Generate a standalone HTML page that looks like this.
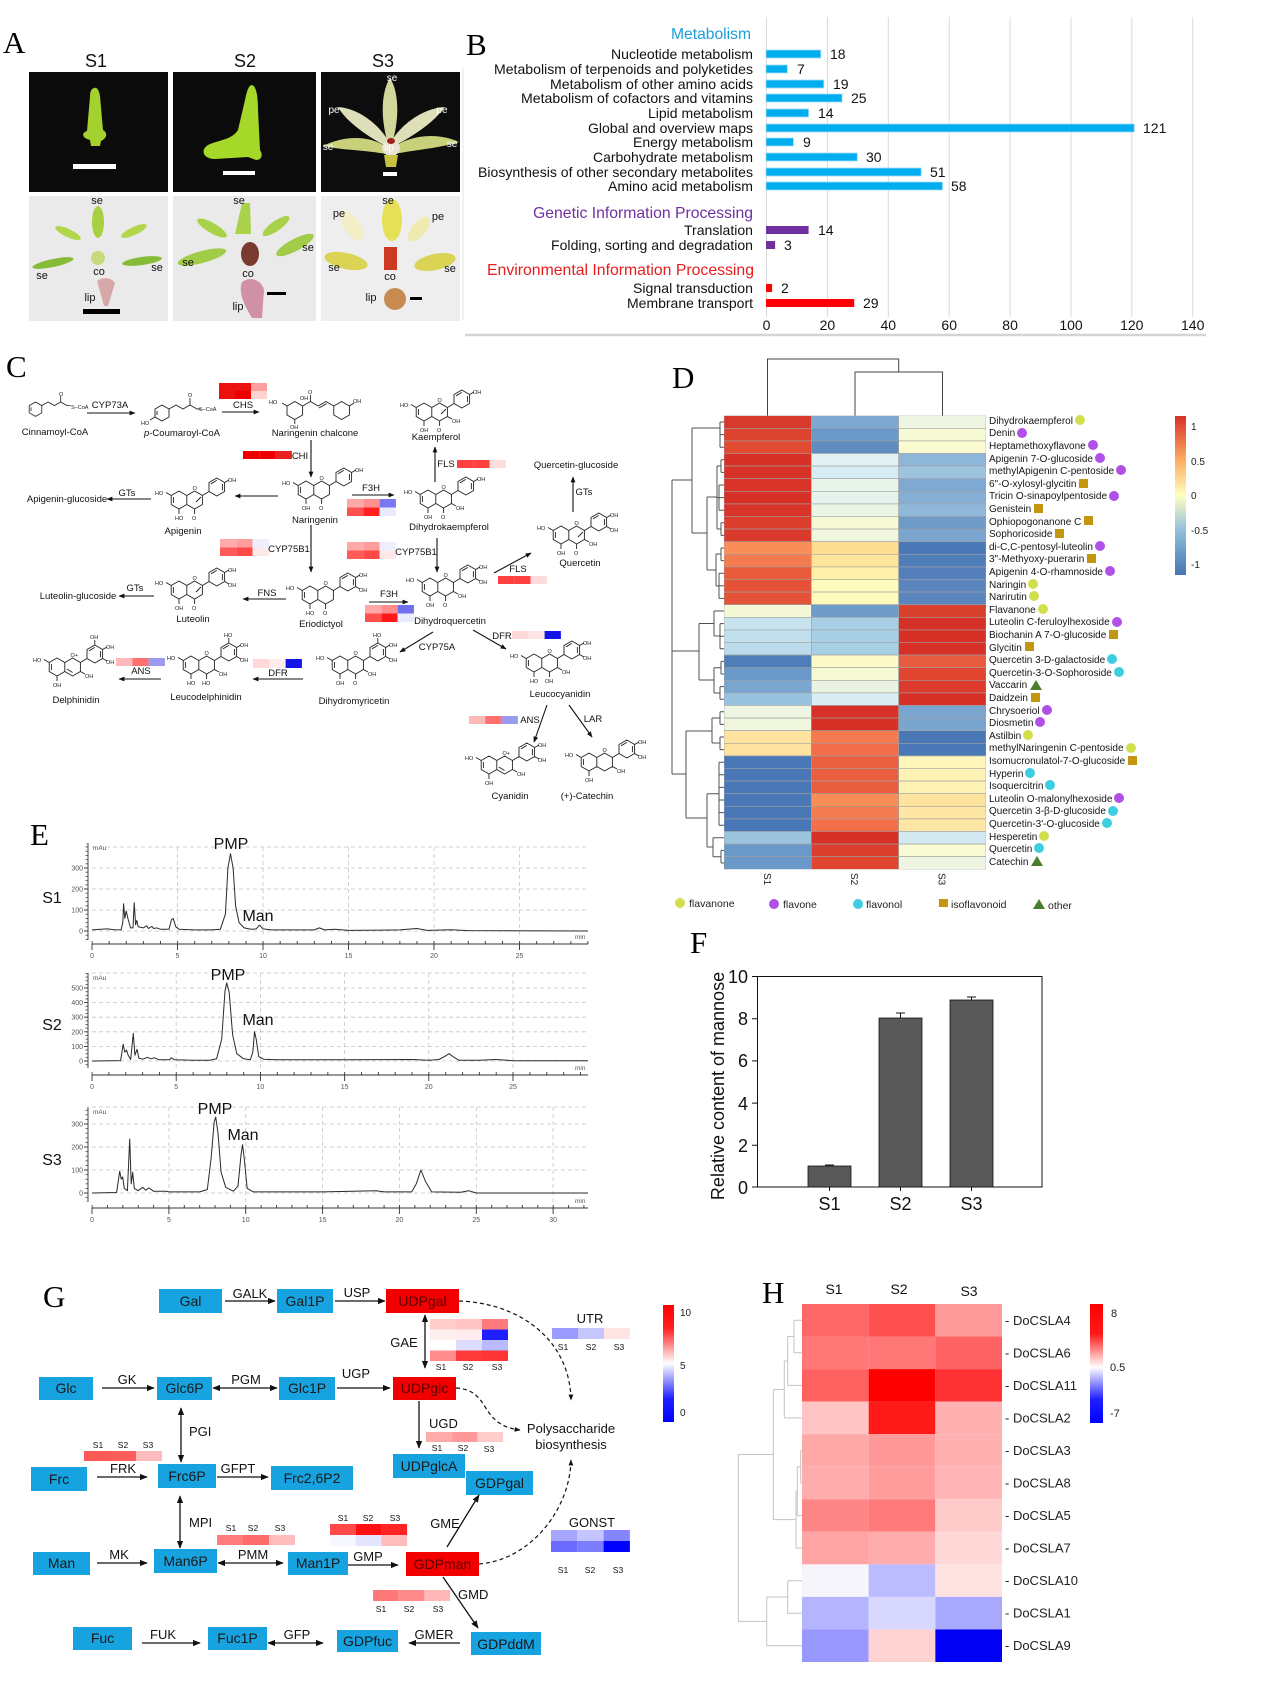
<!DOCTYPE html>
<html><head><meta charset="utf-8">
<style>
html,body{margin:0;padding:0;background:#fff;}
body{width:1269px;height:1691px;position:relative;overflow:hidden;font-family:"Liberation Sans",Arial,sans-serif;}
svg{position:absolute;left:0;top:0;}
.rl{position:absolute;left:989px;font-size:10px;line-height:12.6px;height:12.6px;white-space:nowrap;color:#151515;}
.m{display:inline-block;vertical-align:middle;margin-left:2px;position:relative;top:-1px;}
.ci{width:10px;height:10px;border-radius:50%;}
.fa{background:#d2df4c}.fo{background:#b14fe6}.fl{background:#3fcde0}
.sq{width:9px;height:9px;background:#c4960f;margin-left:3px}
.tr{width:0;height:0;border-left:6px solid transparent;border-right:6px solid transparent;border-bottom:10px solid #4a7d2c;margin-left:3px}
</style></head><body>
<svg width="1269" height="1691" viewBox="0 0 1269 1691" xmlns="http://www.w3.org/2000/svg" font-family="Liberation Sans, Arial, sans-serif">
<defs>
<marker id="a" viewBox="0 0 10 10" refX="9" refY="5" markerWidth="6" markerHeight="6" orient="auto-start-reverse" markerUnits="userSpaceOnUse"><path d="M0,1L10,5L0,9Z" fill="#111"/></marker>
<marker id="b" viewBox="0 0 10 10" refX="9" refY="5" markerWidth="8" markerHeight="8" orient="auto-start-reverse" markerUnits="userSpaceOnUse"><path d="M0,1L10,5L0,9Z" fill="#111"/></marker>
<linearGradient id="gd" x1="0" y1="0" x2="0" y2="1"><stop offset="0" stop-color="#d73027"/><stop offset="0.28" stop-color="#fdae61"/><stop offset="0.5" stop-color="#ffffbf"/><stop offset="0.72" stop-color="#91bfdb"/><stop offset="1" stop-color="#4575b4"/></linearGradient>
<linearGradient id="gh" x1="0" y1="0" x2="0" y2="1"><stop offset="0" stop-color="#ff0000"/><stop offset="0.25" stop-color="#ff1818"/><stop offset="0.53" stop-color="#ffffff"/><stop offset="0.8" stop-color="#2020ff"/><stop offset="1" stop-color="#0000ff"/></linearGradient>
<linearGradient id="gg" x1="0" y1="0" x2="0" y2="1"><stop offset="0" stop-color="#ff0000"/><stop offset="0.2" stop-color="#ff2020"/><stop offset="0.5" stop-color="#ffffff"/><stop offset="0.8" stop-color="#2020ff"/><stop offset="1" stop-color="#0000ff"/></linearGradient>
<pattern id="tx1" x="91.6" y="0" width="17.1" height="10" patternUnits="userSpaceOnUse"><rect width="0.9" height="10" fill="#333"/></pattern>
<pattern id="tx2" x="91.6" y="0" width="16.84" height="10" patternUnits="userSpaceOnUse"><rect width="0.9" height="10" fill="#333"/></pattern>
<pattern id="tx3" x="91.6" y="0" width="15.37" height="10" patternUnits="userSpaceOnUse"><rect width="0.9" height="10" fill="#333"/></pattern>
<pattern id="ty1" x="0" y="930.6" width="10" height="4.2" patternUnits="userSpaceOnUse"><rect width="10" height="0.8" fill="#444"/></pattern>
<pattern id="ty2" x="0" y="1060.6" width="10" height="3.65" patternUnits="userSpaceOnUse"><rect width="10" height="0.8" fill="#444"/></pattern>
<pattern id="ty3" x="0" y="1192.6" width="10" height="4.6" patternUnits="userSpaceOnUse"><rect width="10" height="0.8" fill="#444"/></pattern>
</defs>

<!-- ================= A ================= -->
<text x="3" y="53" font-family="Liberation Serif, serif" font-size="31">A</text>
<g font-size="18" text-anchor="middle" fill="#111"><text x="96" y="67">S1</text><text x="245" y="67">S2</text><text x="383" y="67">S3</text></g>
<rect x="29" y="72" width="139" height="120" fill="#0b0b0b"/>
<rect x="173" y="72" width="143" height="120" fill="#0b0b0b"/>
<rect x="321" y="72" width="139" height="120" fill="#0d0d0d"/>
<path d="M94,88C97,87 99,90 100,96L103,130C108,133 107,138 101,141L100,146L91,146L90,140C82,138 81,133 87,131L90,97C90,92 91,89 94,88Z" fill="#a5d12e"/>
<rect x="73" y="164" width="43" height="5" fill="#fff"/>
<path d="M252,85C256,86 258,95 258,110L260,150C263,155 262,160 256,160L248,157L215,159C203,159 200,150 208,145C218,140 232,140 238,130L245,100C247,90 249,85 252,85Z" fill="#a6d82a"/>
<rect x="223" y="171" width="32" height="4" fill="#fff"/>
<path d="M323,146C345,135 370,135 388,148L386,154C365,150 340,150 323,146Z" fill="#c9d07a"/>
<path d="M459,142C437,132 410,135 392,148L394,154C415,150 440,148 459,142Z" fill="#c9d07a"/>
<path d="M338,107C355,108 375,120 388,140L384,145C365,135 345,120 338,107Z" fill="#dedfb8"/>
<path d="M444,107C427,108 405,120 392,140L396,145C415,135 437,120 444,107Z" fill="#dedfb8"/>
<path d="M390,78C398,90 400,115 393,140L387,140C380,115 382,90 390,78Z" fill="#d3d69a"/>
<ellipse cx="391" cy="148" rx="9" ry="8" fill="#e8e2d2"/><ellipse cx="391" cy="141" rx="4" ry="3" fill="#a02020"/>
<path d="M384,155L398,155L396,167L386,167Z" fill="#c8c040"/>
<rect x="383" y="172" width="14" height="4" fill="#fff"/>
<g font-size="10" fill="#fff" text-anchor="middle"><text x="392" y="81">se</text><text x="334" y="113">pe</text><text x="442" y="113">pe</text><text x="328" y="150">se</text><text x="452" y="147">se</text><text x="389" y="151">lip</text></g>

<rect x="29" y="196" width="139" height="125" fill="#eaeaea"/>
<rect x="173" y="196" width="143" height="125" fill="#eaeaea"/>
<rect x="321" y="196" width="139" height="125" fill="#eeeeee"/>
<!-- S1 bottom -->
<ellipse cx="98" cy="222" rx="6" ry="16" fill="#a8d040"/>
<ellipse cx="68" cy="233" rx="14" ry="4" transform="rotate(25 68 233)" fill="#b2d64a"/>
<ellipse cx="134" cy="231" rx="14" ry="4" transform="rotate(-25 134 231)" fill="#b2d64a"/>
<ellipse cx="53" cy="263" rx="21" ry="4" transform="rotate(-12 53 263)" fill="#86bb38"/>
<ellipse cx="142" cy="261" rx="20" ry="4" transform="rotate(-8 142 261)" fill="#86bb38"/>
<circle cx="98" cy="258" r="7" fill="#c6da7a"/>
<path d="M97,281C103,276 112,278 115,283L108,306L104,306Z" fill="#d7a8a8"/>
<rect x="83" y="309" width="37" height="5" fill="#000"/>
<g font-size="11" fill="#111" text-anchor="middle"><text x="97" y="204">se</text><text x="99" y="275">co</text><text x="42" y="279">se</text><text x="157" y="271">se</text><text x="90" y="301">lip</text></g>
<!-- S2 bottom -->
<path d="M242,203L250,203L251,234L235,234Z" fill="#a9d24a"/>
<ellipse cx="212" cy="228" rx="17" ry="5" transform="rotate(30 212 228)" fill="#a9d24a"/>
<ellipse cx="276" cy="226" rx="16" ry="5" transform="rotate(-35 276 226)" fill="#a9d24a"/>
<ellipse cx="202" cy="257" rx="25" ry="6" transform="rotate(-15 202 257)" fill="#a0cc48"/>
<ellipse cx="295" cy="245" rx="21" ry="6" transform="rotate(-28 295 245)" fill="#a0cc48"/>
<ellipse cx="250" cy="254" rx="9" ry="12" fill="#7a3a30"/>
<path d="M242,282C250,276 262,280 264,290L262,318L252,318C244,305 238,292 242,282Z" fill="#cf90a8"/>
<rect x="267" y="292" width="19" height="3" fill="#000"/>
<g font-size="11" fill="#111" text-anchor="middle"><text x="239" y="204">se</text><text x="188" y="266">se</text><text x="308" y="251">se</text><text x="248" y="277">co</text><text x="238" y="310">lip</text></g>
<!-- S3 bottom -->
<ellipse cx="352" cy="226" rx="8" ry="17" transform="rotate(-35 352 226)" fill="#f2efc8"/>
<ellipse cx="392" cy="220" rx="10" ry="21" fill="#e6df58"/>
<ellipse cx="419" cy="229" rx="7" ry="15" transform="rotate(40 419 229)" fill="#eeeab0"/>
<ellipse cx="346" cy="261" rx="22" ry="8" transform="rotate(12 346 261)" fill="#dad354"/>
<ellipse cx="435" cy="262" rx="21" ry="8" transform="rotate(-12 435 262)" fill="#dad354"/>
<rect x="384" y="247" width="13" height="23" fill="#cc3a22"/>
<circle cx="395" cy="299" r="11" fill="#c88a50"/>
<rect x="410" y="297" width="12" height="3" fill="#000"/>
<g font-size="11" fill="#111" text-anchor="middle"><text x="339" y="217">pe</text><text x="388" y="204">se</text><text x="438" y="220">pe</text><text x="334" y="271">se</text><text x="450" y="272">se</text><text x="390" y="280">co</text><text x="371" y="301">lip</text></g>

<!-- ================= B ================= -->
<text x="466" y="55" font-family="Liberation Serif, serif" font-size="31">B</text>
<line x1="463" y1="67" x2="463" y2="320" stroke="#e6e6e6"/>
<g stroke="#d9d9d9" stroke-width="1">
<line x1="766.5" y1="17" x2="766.5" y2="317"/><line x1="827.4" y1="17" x2="827.4" y2="317"/><line x1="888.3" y1="17" x2="888.3" y2="317"/><line x1="949.2" y1="17" x2="949.2" y2="317"/><line x1="1010.1" y1="17" x2="1010.1" y2="317"/><line x1="1071" y1="17" x2="1071" y2="317"/><line x1="1131.8" y1="17" x2="1131.8" y2="317"/><line x1="1192.7" y1="17" x2="1192.7" y2="317"/>
</g>
<line x1="465" y1="335" x2="1206" y2="335" stroke="#d4d4d4" stroke-width="2.5"/>
<g font-size="14" fill="#111" text-anchor="end">
<text x="751" y="39" font-size="16" fill="#1a9fdc" textLength="80" lengthAdjust="spacingAndGlyphs">Metabolism</text>
<text x="753" y="59" textLength="142" lengthAdjust="spacingAndGlyphs">Nucleotide metabolism</text>
<text x="753" y="74" textLength="259" lengthAdjust="spacingAndGlyphs">Metabolism of terpenoids and polyketides</text>
<text x="753" y="89" textLength="203" lengthAdjust="spacingAndGlyphs">Metabolism of other amino acids</text>
<text x="753" y="103" textLength="232" lengthAdjust="spacingAndGlyphs">Metabolism of cofactors and vitamins</text>
<text x="753" y="118" textLength="105" lengthAdjust="spacingAndGlyphs">Lipid metabolism</text>
<text x="753" y="133" textLength="165" lengthAdjust="spacingAndGlyphs">Global and overview maps</text>
<text x="753" y="147" textLength="120" lengthAdjust="spacingAndGlyphs">Energy metabolism</text>
<text x="753" y="162" textLength="160" lengthAdjust="spacingAndGlyphs">Carbohydrate metabolism</text>
<text x="753" y="177" textLength="275" lengthAdjust="spacingAndGlyphs">Biosynthesis of other secondary metabolites</text>
<text x="753" y="191" textLength="145" lengthAdjust="spacingAndGlyphs">Amino acid metabolism</text>
<text x="753" y="218" font-size="16" fill="#7030a0" textLength="220" lengthAdjust="spacingAndGlyphs">Genetic Information Processing</text>
<text x="753" y="235" textLength="69" lengthAdjust="spacingAndGlyphs">Translation</text>
<text x="753" y="250" textLength="202" lengthAdjust="spacingAndGlyphs">Folding, sorting and degradation</text>
<text x="754" y="275" font-size="16" fill="#e81c1c" textLength="267" lengthAdjust="spacingAndGlyphs">Environmental Information Processing</text>
<text x="753" y="293" textLength="120" lengthAdjust="spacingAndGlyphs">Signal transduction</text>
<text x="753" y="308" textLength="126" lengthAdjust="spacingAndGlyphs">Membrane transport</text>
</g>
<g stroke="#9fdcf6" stroke-width="0.8">
<rect x="766" y="50" width="54.8" height="8" fill="#00aeef"/>
<rect x="766" y="65" width="21.3" height="8" fill="#00aeef"/>
<rect x="766" y="80" width="57.8" height="8" fill="#00aeef"/>
<rect x="766" y="94" width="76.1" height="8" fill="#00aeef"/>
<rect x="766" y="109" width="42.6" height="8" fill="#00aeef"/>
<rect x="766" y="124" width="368.2" height="8" fill="#00aeef"/>
<rect x="766" y="138" width="27.4" height="8" fill="#00aeef"/>
<rect x="766" y="153" width="91.3" height="8" fill="#00aeef"/>
<rect x="766" y="168" width="155.2" height="8" fill="#00aeef"/>
<rect x="766" y="182" width="176.5" height="8" fill="#00aeef"/>
</g>
<rect x="766" y="226" width="42.6" height="8" fill="#7030a0"/>
<rect x="766" y="241" width="9.1" height="8" fill="#7030a0"/>
<rect x="766" y="284" width="6.1" height="8" fill="#ff0000"/>
<rect x="766" y="299" width="88.2" height="8" fill="#ff0000"/>
<g font-size="14" fill="#111">
<text x="830" y="59">18</text><text x="797" y="74">7</text><text x="833" y="89">19</text><text x="851" y="103">25</text><text x="818" y="118">14</text><text x="1143" y="133">121</text><text x="803" y="147">9</text><text x="866" y="162">30</text><text x="930" y="177">51</text><text x="951" y="191">58</text>
<text x="818" y="235">14</text><text x="784" y="250">3</text><text x="781" y="293">2</text><text x="863" y="308">29</text>
</g>
<g font-size="14" fill="#111" text-anchor="middle">
<text x="766.5" y="330">0</text><text x="827.4" y="330">20</text><text x="888.3" y="330">40</text><text x="949.2" y="330">60</text><text x="1010.1" y="330">80</text><text x="1071" y="330">100</text><text x="1131.8" y="330">120</text><text x="1192.7" y="330">140</text>
</g>

<!-- ================= C ================= -->
<text x="6" y="377" font-family="Liberation Serif, serif" font-size="31">C</text>
<g fill="none" stroke="#222" stroke-width="0.9">
<path transform="translate(22,393) scale(0.9)" d="M8,14L15,10L22,14L22,22L15,26L8,22ZM22,14L29,10L36,14L43,10L50,14M43,10L43,3M50,14L54,14M10,16L10,20"/>
<path transform="translate(147,395)" d="M8,14L15,10L22,14L22,22L15,26L8,22ZM22,14L29,10L36,14L43,10L50,14M43,10L43,3M50,14L54,14M10,16L10,20M8,22L3,25"/>
<path transform="translate(277,394)" d="M10,12L17.8,7.5L25.6,12L25.6,21L17.8,25.5L10,21ZM25.6,12L33.4,7.5L41.2,12L49,7.5L56.8,12M33.4,7.5L33.4,1M56.8,12L56.8,21L64.6,25.5L72.4,21L72.4,12L64.6,7.5ZM10,12L5,9M17.8,25.5L17.8,30M72.4,12L77,9M42,14L49.5,9.7"/>
</g>
<g font-size="5.5" fill="#222">
<text x="71" y="409">S–CoA</text><text x="59" y="396">O</text>
<text x="199" y="411">S–CoA</text><text x="188" y="397">O</text><text x="141" y="425">HO</text>
<text x="269" y="404">HO</text><text x="300" y="400">OH</text><text x="290" y="429">OH</text><text x="308" y="394">O</text><text x="353" y="403">OH</text>
</g>
<g fill="none" stroke="#222" stroke-width="0.9">
<path transform="translate(291,468)" d="M15,13L22.8,17.5L22.8,26.5L15,31L7.2,26.5L7.2,17.5ZM22.8,17.5L30.6,13L38.4,17.5L38.4,26.5L30.6,31L22.8,26.5M38.4,17.5L45,13.5M45,13.5L45,4.5L52.8,0L60.6,4.5L60.6,13.5L52.8,18ZM7.2,17.5L2,14.5M15,31L15,36M30.6,31L30.6,36M60.6,4.5L65,2M9.4,19L9.4,25M47,5.8L52.8,2.4M58.4,6L58.4,12.2"/>
<path transform="translate(164,478)" d="M15,13L22.8,17.5L22.8,26.5L15,31L7.2,26.5L7.2,17.5ZM22.8,17.5L30.6,13L38.4,17.5L38.4,26.5L30.6,31L22.8,26.5M38.4,17.5L45,13.5M45,13.5L45,4.5L52.8,0L60.6,4.5L60.6,13.5L52.8,18ZM7.2,17.5L2,14.5M15,31L15,36M30.6,31L30.6,36M60.6,4.5L65,2M9.4,19L9.4,25M47,5.8L52.8,2.4M58.4,6L58.4,12.2M32,24L37,19"/>
<path transform="translate(413,477)" d="M15,13L22.8,17.5L22.8,26.5L15,31L7.2,26.5L7.2,17.5ZM22.8,17.5L30.6,13L38.4,17.5L38.4,26.5L30.6,31L22.8,26.5M38.4,17.5L45,13.5M45,13.5L45,4.5L52.8,0L60.6,4.5L60.6,13.5L52.8,18ZM7.2,17.5L2,14.5M15,31L15,36M30.6,31L30.6,36M60.6,4.5L65,2M9.4,19L9.4,25M47,5.8L52.8,2.4M58.4,6L58.4,12.2M38.4,26.5L43,29"/>
<path transform="translate(409,390)" d="M15,13L22.8,17.5L22.8,26.5L15,31L7.2,26.5L7.2,17.5ZM22.8,17.5L30.6,13L38.4,17.5L38.4,26.5L30.6,31L22.8,26.5M38.4,17.5L45,13.5M45,13.5L45,4.5L52.8,0L60.6,4.5L60.6,13.5L52.8,18ZM7.2,17.5L2,14.5M15,31L15,36M30.6,31L30.6,36M60.6,4.5L65,2M9.4,19L9.4,25M47,5.8L52.8,2.4M58.4,6L58.4,12.2M38.4,26.5L43,29M32,24L37,19"/>
<path transform="translate(295,573)" d="M15,13L22.8,17.5L22.8,26.5L15,31L7.2,26.5L7.2,17.5ZM22.8,17.5L30.6,13L38.4,17.5L38.4,26.5L30.6,31L22.8,26.5M38.4,17.5L45,13.5M45,13.5L45,4.5L52.8,0L60.6,4.5L60.6,13.5L52.8,18ZM7.2,17.5L2,14.5M15,31L15,36M30.6,31L30.6,36M60.6,4.5L65,2M60.6,13.5L65,16M9.4,19L9.4,25M47,5.8L52.8,2.4M58.4,6L58.4,12.2"/>
<path transform="translate(164,568)" d="M15,13L22.8,17.5L22.8,26.5L15,31L7.2,26.5L7.2,17.5ZM22.8,17.5L30.6,13L38.4,17.5L38.4,26.5L30.6,31L22.8,26.5M38.4,17.5L45,13.5M45,13.5L45,4.5L52.8,0L60.6,4.5L60.6,13.5L52.8,18ZM7.2,17.5L2,14.5M15,31L15,36M30.6,31L30.6,36M60.6,4.5L65,2M60.6,13.5L65,16M9.4,19L9.4,25M47,5.8L52.8,2.4M58.4,6L58.4,12.2M32,24L37,19"/>
<path transform="translate(415,565)" d="M15,13L22.8,17.5L22.8,26.5L15,31L7.2,26.5L7.2,17.5ZM22.8,17.5L30.6,13L38.4,17.5L38.4,26.5L30.6,31L22.8,26.5M38.4,17.5L45,13.5M45,13.5L45,4.5L52.8,0L60.6,4.5L60.6,13.5L52.8,18ZM7.2,17.5L2,14.5M15,31L15,36M30.6,31L30.6,36M60.6,4.5L65,2M60.6,13.5L65,16M9.4,19L9.4,25M47,5.8L52.8,2.4M58.4,6L58.4,12.2M38.4,26.5L43,29"/>
<path transform="translate(546,513)" d="M15,13L22.8,17.5L22.8,26.5L15,31L7.2,26.5L7.2,17.5ZM22.8,17.5L30.6,13L38.4,17.5L38.4,26.5L30.6,31L22.8,26.5M38.4,17.5L45,13.5M45,13.5L45,4.5L52.8,0L60.6,4.5L60.6,13.5L52.8,18ZM7.2,17.5L2,14.5M15,31L15,36M30.6,31L30.6,36M60.6,4.5L65,2M60.6,13.5L65,16M9.4,19L9.4,25M47,5.8L52.8,2.4M58.4,6L58.4,12.2M38.4,26.5L43,29M32,24L37,19"/>
<path transform="translate(325,643)" d="M15,13L22.8,17.5L22.8,26.5L15,31L7.2,26.5L7.2,17.5ZM22.8,17.5L30.6,13L38.4,17.5L38.4,26.5L30.6,31L22.8,26.5M38.4,17.5L45,13.5M45,13.5L45,4.5L52.8,0L60.6,4.5L60.6,13.5L52.8,18ZM7.2,17.5L2,14.5M15,31L15,36M30.6,31L30.6,36M60.6,4.5L65,2M60.6,13.5L65,16M52.8,0L52.8,-5M9.4,19L9.4,25M47,5.8L52.8,2.4M58.4,6L58.4,12.2M38.4,26.5L43,29"/>
<path transform="translate(176,643)" d="M15,13L22.8,17.5L22.8,26.5L15,31L7.2,26.5L7.2,17.5ZM22.8,17.5L30.6,13L38.4,17.5L38.4,26.5L30.6,31L22.8,26.5M38.4,17.5L45,13.5M45,13.5L45,4.5L52.8,0L60.6,4.5L60.6,13.5L52.8,18ZM7.2,17.5L2,14.5M15,31L15,36M30.6,31L30.6,36M60.6,4.5L65,2M60.6,13.5L65,16M52.8,0L52.8,-5M9.4,19L9.4,25M47,5.8L52.8,2.4M58.4,6L58.4,12.2M38.4,26.5L43,29"/>
<path transform="translate(42,645)" d="M15,13L22.8,17.5L22.8,26.5L15,31L7.2,26.5L7.2,17.5ZM22.8,17.5L30.6,13L38.4,17.5L38.4,26.5L30.6,31L22.8,26.5M38.4,17.5L45,13.5M45,13.5L45,4.5L52.8,0L60.6,4.5L60.6,13.5L52.8,18ZM7.2,17.5L2,14.5M15,31L15,36M60.6,4.5L65,2M60.6,13.5L65,16M52.8,0L52.8,-5M9.4,19L9.4,25M47,5.8L52.8,2.4M58.4,6L58.4,12.2M38.4,26.5L43,29M24.8,24L30.6,27.5"/>
<path transform="translate(519,641)" d="M15,13L22.8,17.5L22.8,26.5L15,31L7.2,26.5L7.2,17.5ZM22.8,17.5L30.6,13L38.4,17.5L38.4,26.5L30.6,31L22.8,26.5M38.4,17.5L45,13.5M45,13.5L45,4.5L52.8,0L60.6,4.5L60.6,13.5L52.8,18ZM7.2,17.5L2,14.5M15,31L15,36M30.6,31L30.6,36M60.6,4.5L65,2M60.6,13.5L65,16M9.4,19L9.4,25M47,5.8L52.8,2.4M58.4,6L58.4,12.2M38.4,26.5L43,29"/>
<path transform="translate(474,743)" d="M15,13L22.8,17.5L22.8,26.5L15,31L7.2,26.5L7.2,17.5ZM22.8,17.5L30.6,13L38.4,17.5L38.4,26.5L30.6,31L22.8,26.5M38.4,17.5L45,13.5M45,13.5L45,4.5L52.8,0L60.6,4.5L60.6,13.5L52.8,18ZM7.2,17.5L2,14.5M15,31L15,36M60.6,4.5L65,2M60.6,13.5L65,16M9.4,19L9.4,25M47,5.8L52.8,2.4M58.4,6L58.4,12.2M38.4,26.5L43,29M24.8,24L30.6,27.5"/>
<path transform="translate(574,740)" d="M15,13L22.8,17.5L22.8,26.5L15,31L7.2,26.5L7.2,17.5ZM22.8,17.5L30.6,13L38.4,17.5L38.4,26.5L30.6,31L22.8,26.5M38.4,17.5L45,13.5M45,13.5L45,4.5L52.8,0L60.6,4.5L60.6,13.5L52.8,18ZM7.2,17.5L2,14.5M15,31L15,36M60.6,4.5L65,2M60.6,13.5L65,16M9.4,19L9.4,25M47,5.8L52.8,2.4M58.4,6L58.4,12.2M38.4,26.5L43,29"/>
</g>
<g font-size="5.5" fill="#222">
<g transform="translate(291,468)"><text x="-9" y="17">HO</text><text x="11" y="42">OH</text><text x="28" y="42">O</text><text x="28.5" y="12">O</text><text x="64" y="4">OH</text></g>
<g transform="translate(164,478)"><text x="-9" y="17">HO</text><text x="11" y="42">HO</text><text x="28" y="42">O</text><text x="28.5" y="12">O</text><text x="64" y="4">OH</text></g>
<g transform="translate(413,477)"><text x="-9" y="17">HO</text><text x="11" y="42">OH</text><text x="28" y="42">O</text><text x="28.5" y="12">O</text><text x="64" y="4">OH</text><text x="43" y="33">OH</text></g>
<g transform="translate(409,390)"><text x="-9" y="17">HO</text><text x="11" y="42">OH</text><text x="28" y="42">O</text><text x="28.5" y="12">O</text><text x="64" y="4">OH</text><text x="43" y="33">OH</text></g>
<g transform="translate(295,573)"><text x="-9" y="17">HO</text><text x="11" y="42">HO</text><text x="28" y="42">O</text><text x="28.5" y="12">O</text><text x="64" y="4">OH</text><text x="64" y="19">OH</text></g>
<g transform="translate(164,568)"><text x="-9" y="17">HO</text><text x="11" y="42">OH</text><text x="28" y="42">O</text><text x="28.5" y="12">O</text><text x="64" y="4">OH</text><text x="64" y="19">OH</text></g>
<g transform="translate(415,565)"><text x="-9" y="17">HO</text><text x="11" y="42">OH</text><text x="28" y="42">O</text><text x="28.5" y="12">O</text><text x="64" y="4">OH</text><text x="64" y="19">OH</text><text x="43" y="33">OH</text></g>
<g transform="translate(546,513)"><text x="-9" y="17">HO</text><text x="11" y="42">OH</text><text x="28" y="42">O</text><text x="28.5" y="12">O</text><text x="64" y="4">OH</text><text x="64" y="19">OH</text><text x="43" y="33">OH</text></g>
<g transform="translate(325,643)"><text x="-9" y="17">HO</text><text x="11" y="42">OH</text><text x="28" y="42">O</text><text x="28.5" y="12">O</text><text x="64" y="4">OH</text><text x="64" y="19">OH</text><text x="48" y="-6">HO</text><text x="43" y="33">OH</text></g>
<g transform="translate(176,643)"><text x="-9" y="17">HO</text><text x="11" y="42">HO</text><text x="26" y="42">HO</text><text x="28.5" y="12">O</text><text x="64" y="4">OH</text><text x="64" y="19">OH</text><text x="48" y="-6">HO</text><text x="43" y="33">OH</text></g>
<g transform="translate(42,645)"><text x="-9" y="17">HO</text><text x="11" y="42">OH</text><text x="28.5" y="12">O+</text><text x="64" y="4">OH</text><text x="64" y="19">OH</text><text x="48" y="-6">OH</text><text x="43" y="33">OH</text></g>
<g transform="translate(519,641)"><text x="-9" y="17">HO</text><text x="11" y="42">HO</text><text x="26" y="42">OH</text><text x="28.5" y="12">O</text><text x="64" y="4">OH</text><text x="64" y="19">OH</text><text x="43" y="33">OH</text></g>
<g transform="translate(474,743)"><text x="-9" y="17">HO</text><text x="11" y="42">OH</text><text x="28.5" y="12">O+</text><text x="64" y="4">OH</text><text x="64" y="19">OH</text><text x="43" y="33">OH</text></g>
<g transform="translate(574,740)"><text x="-9" y="17">HO</text><text x="11" y="42">OH</text><text x="28.5" y="12">O</text><text x="64" y="4">OH</text><text x="64" y="19">OH</text><text x="43" y="33">OH</text></g>
</g>
<!-- C heatmaps -->
<g>
<rect x="219" y="383" width="16" height="8" fill="#ee1111"/><rect x="235" y="383" width="16" height="8" fill="#ee1111"/><rect x="251" y="383" width="16" height="8" fill="#ffa0a0"/>
<rect x="219" y="391" width="16" height="8" fill="#ee0f0f"/><rect x="235" y="391" width="16" height="8" fill="#ee0000"/><rect x="251" y="391" width="16" height="8" fill="#ffd2d2"/>
<rect x="243" y="451" width="16.3" height="8" fill="#ee0000"/><rect x="259.3" y="451" width="16.3" height="8" fill="#ee0000"/><rect x="275.6" y="451" width="16.3" height="8" fill="#e82020"/>
<rect x="347" y="499" width="16.3" height="8.5" fill="#ffa8a8"/><rect x="363.3" y="499" width="16.3" height="8.5" fill="#ff9090"/><rect x="379.6" y="499" width="16.3" height="8.5" fill="#7878f0"/>
<rect x="347" y="507.5" width="16.3" height="8.5" fill="#ff5050"/><rect x="363.3" y="507.5" width="16.3" height="8.5" fill="#ff2020"/><rect x="379.6" y="507.5" width="16.3" height="8.5" fill="#eaeaff"/>
<rect x="457" y="460" width="16.3" height="8" fill="#ff4040"/><rect x="473.3" y="460" width="16.3" height="8" fill="#ff4040"/><rect x="489.6" y="460" width="16.3" height="8" fill="#ffdcdc"/>
<rect x="220" y="539" width="16.3" height="8.5" fill="#ffaaaa"/><rect x="236.3" y="539" width="16.3" height="8.5" fill="#ff9c9c"/><rect x="252.6" y="539" width="16.3" height="8.5" fill="#eeeeff"/>
<rect x="220" y="547.5" width="16.3" height="8.5" fill="#ff5a5a"/><rect x="236.3" y="547.5" width="16.3" height="8.5" fill="#ff4848"/><rect x="252.6" y="547.5" width="16.3" height="8.5" fill="#ffe8e8"/>
<rect x="347" y="542" width="16.3" height="8.5" fill="#ffaaaa"/><rect x="363.3" y="542" width="16.3" height="8.5" fill="#ff9c9c"/><rect x="379.6" y="542" width="16.3" height="8.5" fill="#eeeeff"/>
<rect x="347" y="550.5" width="16.3" height="8.5" fill="#ff5a5a"/><rect x="363.3" y="550.5" width="16.3" height="8.5" fill="#ff4848"/><rect x="379.6" y="550.5" width="16.3" height="8.5" fill="#ffe8e8"/>
<rect x="365" y="605" width="16.3" height="8.5" fill="#ffa8a8"/><rect x="381.3" y="605" width="16.3" height="8.5" fill="#ff8c8c"/><rect x="397.6" y="605" width="16.3" height="8.5" fill="#7070ee"/>
<rect x="365" y="613.5" width="16.3" height="8.5" fill="#ff4e4e"/><rect x="381.3" y="613.5" width="16.3" height="8.5" fill="#ff1818"/><rect x="397.6" y="613.5" width="16.3" height="8.5" fill="#eaeaff"/>
<rect x="498" y="576" width="16.3" height="8" fill="#ff4040"/><rect x="514.3" y="576" width="16.3" height="8" fill="#ff4040"/><rect x="530.6" y="576" width="16.3" height="8" fill="#ffdcdc"/>
<rect x="512" y="631" width="16.3" height="8" fill="#ffd8d8"/><rect x="528.3" y="631" width="16.3" height="8" fill="#ffe4e4"/><rect x="544.6" y="631" width="16.3" height="8" fill="#1414e6"/>
<rect x="253" y="659" width="16.3" height="9" fill="#ffd8d8"/><rect x="269.3" y="659" width="16.3" height="9" fill="#ffecec"/><rect x="285.6" y="659" width="16.3" height="9" fill="#1414e6"/>
<rect x="116" y="658" width="16.3" height="8" fill="#ffb8b8"/><rect x="132.3" y="658" width="16.3" height="8" fill="#ff7070"/><rect x="148.6" y="658" width="16.3" height="8" fill="#9a9aee"/>
<rect x="469" y="716" width="16.3" height="8" fill="#ffb8b8"/><rect x="485.3" y="716" width="16.3" height="8" fill="#ff7070"/><rect x="501.6" y="716" width="16.3" height="8" fill="#9a9aee"/>
</g>
<g stroke="#111" stroke-width="1.1" marker-end="url(#a)">
<line x1="87" y1="413" x2="135" y2="413"/>
<line x1="222" y1="412" x2="259" y2="412"/>
<line x1="311" y1="440" x2="311" y2="477"/>
<line x1="278" y1="496" x2="235" y2="496"/>
<line x1="151" y1="499" x2="107" y2="499"/>
<line x1="352" y1="495" x2="394" y2="495"/>
<line x1="435" y1="482" x2="435" y2="447"/>
<line x1="311" y1="525" x2="311" y2="572"/>
<line x1="437" y1="538" x2="437" y2="572"/>
<line x1="286" y1="599" x2="243" y2="599"/>
<line x1="154" y1="596" x2="119" y2="596"/>
<line x1="369" y1="602" x2="408" y2="602"/>
<line x1="494" y1="573" x2="531" y2="553"/>
<line x1="573" y1="512" x2="573" y2="477"/>
<line x1="433" y1="632" x2="400" y2="652"/>
<line x1="473" y1="630" x2="506" y2="649"/>
<line x1="303" y1="679" x2="253" y2="679"/>
<line x1="161" y1="679" x2="119" y2="679"/>
<line x1="547" y1="705" x2="534" y2="742"/>
<line x1="569" y1="705" x2="592" y2="737"/>
</g>
<g font-size="9.5" fill="#111" text-anchor="middle">
<text x="55" y="435">Cinnamoyl-CoA</text>
<text x="110" y="408">CYP73A</text>
<text x="182" y="436"><tspan font-style="italic">p</tspan>-Coumaroyl-CoA</text>
<text x="243" y="408">CHS</text>
<text x="315" y="436">Naringenin chalcone</text>
<text x="300" y="459">CHI</text>
<text x="436" y="440">Kaempferol</text>
<text x="446" y="467">FLS</text>
<text x="576" y="468">Quercetin-glucoside</text>
<text x="127" y="496">GTs</text>
<text x="67" y="502">Apigenin-glucoside</text>
<text x="371" y="491">F3H</text>
<text x="315" y="523">Naringenin</text>
<text x="183" y="534">Apigenin</text>
<text x="449" y="530">Dihydrokaempferol</text>
<text x="584" y="495">GTs</text>
<text x="289" y="552">CYP75B1</text>
<text x="416" y="555">CYP75B1</text>
<text x="580" y="566">Quercetin</text>
<text x="267" y="596">FNS</text>
<text x="135" y="591">GTs</text>
<text x="78" y="599">Luteolin-glucoside</text>
<text x="389" y="597">F3H</text>
<text x="518" y="572">FLS</text>
<text x="193" y="622">Luteolin</text>
<text x="321" y="627">Eriodictyol</text>
<text x="450" y="624">Dihydroquercetin</text>
<text x="502" y="639">DFR</text>
<text x="437" y="650">CYP75A</text>
<text x="141" y="674">ANS</text>
<text x="278" y="676">DFR</text>
<text x="76" y="703">Delphinidin</text>
<text x="206" y="700">Leucodelphinidin</text>
<text x="354" y="704">Dihydromyricetin</text>
<text x="560" y="697">Leucocyanidin</text>
<text x="530" y="723">ANS</text>
<text x="593" y="722">LAR</text>
<text x="510" y="799">Cyanidin</text>
<text x="587" y="799">(+)-Catechin</text>
</g>

<!-- ================= D ================= -->
<text x="672" y="388" font-family="Liberation Serif, serif" font-size="31">D</text>
<path d="M767.5,415.7V359H898.7V372M855,415.7V372H942.5V415.7" fill="none" stroke="#444" stroke-width="1"/>
<svg x="724" y="415.7" width="262" height="453.6" viewBox="0 0 3 36" preserveAspectRatio="none">
<g stroke="#a0a0a0" stroke-width="0.6">
<rect x="0" y="0" width="1" height="1" fill="#d73a2c" vector-effect="non-scaling-stroke"/><rect x="1" y="0" width="1" height="1" fill="#7fa8d0" vector-effect="non-scaling-stroke"/><rect x="2" y="0" width="1" height="1" fill="#eef5e2" vector-effect="non-scaling-stroke"/>
<rect x="0" y="1" width="1" height="1" fill="#dc4430" vector-effect="non-scaling-stroke"/><rect x="1" y="1" width="1" height="1" fill="#6a98c8" vector-effect="non-scaling-stroke"/><rect x="2" y="1" width="1" height="1" fill="#f6fad4" vector-effect="non-scaling-stroke"/>
<rect x="0" y="2" width="1" height="1" fill="#e04b32" vector-effect="non-scaling-stroke"/><rect x="1" y="2" width="1" height="1" fill="#5f8dc2" vector-effect="non-scaling-stroke"/><rect x="2" y="2" width="1" height="1" fill="#fafbd0" vector-effect="non-scaling-stroke"/>
<rect x="0" y="3" width="1" height="1" fill="#d73027" vector-effect="non-scaling-stroke"/><rect x="1" y="3" width="1" height="1" fill="#e2f1f2" vector-effect="non-scaling-stroke"/><rect x="2" y="3" width="1" height="1" fill="#8db6d8" vector-effect="non-scaling-stroke"/>
<rect x="0" y="4" width="1" height="1" fill="#d73027" vector-effect="non-scaling-stroke"/><rect x="1" y="4" width="1" height="1" fill="#d6ebf2" vector-effect="non-scaling-stroke"/><rect x="2" y="4" width="1" height="1" fill="#9dc4de" vector-effect="non-scaling-stroke"/>
<rect x="0" y="5" width="1" height="1" fill="#d8342a" vector-effect="non-scaling-stroke"/><rect x="1" y="5" width="1" height="1" fill="#e8f3ea" vector-effect="non-scaling-stroke"/><rect x="2" y="5" width="1" height="1" fill="#7fa9d2" vector-effect="non-scaling-stroke"/>
<rect x="0" y="6" width="1" height="1" fill="#d73027" vector-effect="non-scaling-stroke"/><rect x="1" y="6" width="1" height="1" fill="#e6f2ec" vector-effect="non-scaling-stroke"/><rect x="2" y="6" width="1" height="1" fill="#86afd5" vector-effect="non-scaling-stroke"/>
<rect x="0" y="7" width="1" height="1" fill="#d8342a" vector-effect="non-scaling-stroke"/><rect x="1" y="7" width="1" height="1" fill="#ebf5e6" vector-effect="non-scaling-stroke"/><rect x="2" y="7" width="1" height="1" fill="#8fb8da" vector-effect="non-scaling-stroke"/>
<rect x="0" y="8" width="1" height="1" fill="#dc3e2d" vector-effect="non-scaling-stroke"/><rect x="1" y="8" width="1" height="1" fill="#f5f9d6" vector-effect="non-scaling-stroke"/><rect x="2" y="8" width="1" height="1" fill="#6f9bc9" vector-effect="non-scaling-stroke"/>
<rect x="0" y="9" width="1" height="1" fill="#da3a2c" vector-effect="non-scaling-stroke"/><rect x="1" y="9" width="1" height="1" fill="#f0f7de" vector-effect="non-scaling-stroke"/><rect x="2" y="9" width="1" height="1" fill="#7aa5cf" vector-effect="non-scaling-stroke"/>
<rect x="0" y="10" width="1" height="1" fill="#f98e59" vector-effect="non-scaling-stroke"/><rect x="1" y="10" width="1" height="1" fill="#fddd92" vector-effect="non-scaling-stroke"/><rect x="2" y="10" width="1" height="1" fill="#4a78b6" vector-effect="non-scaling-stroke"/>
<rect x="0" y="11" width="1" height="1" fill="#f47a4f" vector-effect="non-scaling-stroke"/><rect x="1" y="11" width="1" height="1" fill="#fee59b" vector-effect="non-scaling-stroke"/><rect x="2" y="11" width="1" height="1" fill="#4e7db8" vector-effect="non-scaling-stroke"/>
<rect x="0" y="12" width="1" height="1" fill="#e95c3b" vector-effect="non-scaling-stroke"/><rect x="1" y="12" width="1" height="1" fill="#fef0aa" vector-effect="non-scaling-stroke"/><rect x="2" y="12" width="1" height="1" fill="#557fba" vector-effect="non-scaling-stroke"/>
<rect x="0" y="13" width="1" height="1" fill="#e4523a" vector-effect="non-scaling-stroke"/><rect x="1" y="13" width="1" height="1" fill="#fffbbd" vector-effect="non-scaling-stroke"/><rect x="2" y="13" width="1" height="1" fill="#5a86bd" vector-effect="non-scaling-stroke"/>
<rect x="0" y="14" width="1" height="1" fill="#e4523a" vector-effect="non-scaling-stroke"/><rect x="1" y="14" width="1" height="1" fill="#fffbbd" vector-effect="non-scaling-stroke"/><rect x="2" y="14" width="1" height="1" fill="#5a86bd" vector-effect="non-scaling-stroke"/>
<rect x="0" y="15" width="1" height="1" fill="#f4f8d6" vector-effect="non-scaling-stroke"/><rect x="1" y="15" width="1" height="1" fill="#6f9bc9" vector-effect="non-scaling-stroke"/><rect x="2" y="15" width="1" height="1" fill="#d9412e" vector-effect="non-scaling-stroke"/>
<rect x="0" y="16" width="1" height="1" fill="#c8e3ee" vector-effect="non-scaling-stroke"/><rect x="1" y="16" width="1" height="1" fill="#a9cfe4" vector-effect="non-scaling-stroke"/><rect x="2" y="16" width="1" height="1" fill="#d73027" vector-effect="non-scaling-stroke"/>
<rect x="0" y="17" width="1" height="1" fill="#c2dfed" vector-effect="non-scaling-stroke"/><rect x="1" y="17" width="1" height="1" fill="#a8cfe4" vector-effect="non-scaling-stroke"/><rect x="2" y="17" width="1" height="1" fill="#d73027" vector-effect="non-scaling-stroke"/>
<rect x="0" y="18" width="1" height="1" fill="#bcdceb" vector-effect="non-scaling-stroke"/><rect x="1" y="18" width="1" height="1" fill="#a8cfe4" vector-effect="non-scaling-stroke"/><rect x="2" y="18" width="1" height="1" fill="#d73027" vector-effect="non-scaling-stroke"/>
<rect x="0" y="19" width="1" height="1" fill="#4f7db8" vector-effect="non-scaling-stroke"/><rect x="1" y="19" width="1" height="1" fill="#fcfbc8" vector-effect="non-scaling-stroke"/><rect x="2" y="19" width="1" height="1" fill="#e65a3d" vector-effect="non-scaling-stroke"/>
<rect x="0" y="20" width="1" height="1" fill="#6a98c8" vector-effect="non-scaling-stroke"/><rect x="1" y="20" width="1" height="1" fill="#f6fad4" vector-effect="non-scaling-stroke"/><rect x="2" y="20" width="1" height="1" fill="#e0452f" vector-effect="non-scaling-stroke"/>
<rect x="0" y="21" width="1" height="1" fill="#7aa5cf" vector-effect="non-scaling-stroke"/><rect x="1" y="21" width="1" height="1" fill="#eaf3e2" vector-effect="non-scaling-stroke"/><rect x="2" y="21" width="1" height="1" fill="#dc3a2c" vector-effect="non-scaling-stroke"/>
<rect x="0" y="22" width="1" height="1" fill="#98c2de" vector-effect="non-scaling-stroke"/><rect x="1" y="22" width="1" height="1" fill="#d8ecf2" vector-effect="non-scaling-stroke"/><rect x="2" y="22" width="1" height="1" fill="#d73027" vector-effect="non-scaling-stroke"/>
<rect x="0" y="23" width="1" height="1" fill="#eef5e2" vector-effect="non-scaling-stroke"/><rect x="1" y="23" width="1" height="1" fill="#d73027" vector-effect="non-scaling-stroke"/><rect x="2" y="23" width="1" height="1" fill="#7aa5cf" vector-effect="non-scaling-stroke"/>
<rect x="0" y="24" width="1" height="1" fill="#f0f7de" vector-effect="non-scaling-stroke"/><rect x="1" y="24" width="1" height="1" fill="#d73027" vector-effect="non-scaling-stroke"/><rect x="2" y="24" width="1" height="1" fill="#7aa5cf" vector-effect="non-scaling-stroke"/>
<rect x="0" y="25" width="1" height="1" fill="#fee3a0" vector-effect="non-scaling-stroke"/><rect x="1" y="25" width="1" height="1" fill="#f47a4f" vector-effect="non-scaling-stroke"/><rect x="2" y="25" width="1" height="1" fill="#4a78b6" vector-effect="non-scaling-stroke"/>
<rect x="0" y="26" width="1" height="1" fill="#fee3a0" vector-effect="non-scaling-stroke"/><rect x="1" y="26" width="1" height="1" fill="#f26d4a" vector-effect="non-scaling-stroke"/><rect x="2" y="26" width="1" height="1" fill="#4a78b6" vector-effect="non-scaling-stroke"/>
<rect x="0" y="27" width="1" height="1" fill="#4a78b6" vector-effect="non-scaling-stroke"/><rect x="1" y="27" width="1" height="1" fill="#eb5f41" vector-effect="non-scaling-stroke"/><rect x="2" y="27" width="1" height="1" fill="#fff6bb" vector-effect="non-scaling-stroke"/>
<rect x="0" y="28" width="1" height="1" fill="#4a78b6" vector-effect="non-scaling-stroke"/><rect x="1" y="28" width="1" height="1" fill="#eb5f41" vector-effect="non-scaling-stroke"/><rect x="2" y="28" width="1" height="1" fill="#fff2b5" vector-effect="non-scaling-stroke"/>
<rect x="0" y="29" width="1" height="1" fill="#4a78b6" vector-effect="non-scaling-stroke"/><rect x="1" y="29" width="1" height="1" fill="#ea5e40" vector-effect="non-scaling-stroke"/><rect x="2" y="29" width="1" height="1" fill="#fff2b5" vector-effect="non-scaling-stroke"/>
<rect x="0" y="30" width="1" height="1" fill="#4a78b6" vector-effect="non-scaling-stroke"/><rect x="1" y="30" width="1" height="1" fill="#f88d58" vector-effect="non-scaling-stroke"/><rect x="2" y="30" width="1" height="1" fill="#fee39e" vector-effect="non-scaling-stroke"/>
<rect x="0" y="31" width="1" height="1" fill="#4a78b6" vector-effect="non-scaling-stroke"/><rect x="1" y="31" width="1" height="1" fill="#f47a4f" vector-effect="non-scaling-stroke"/><rect x="2" y="31" width="1" height="1" fill="#fee6a4" vector-effect="non-scaling-stroke"/>
<rect x="0" y="32" width="1" height="1" fill="#4a78b6" vector-effect="non-scaling-stroke"/><rect x="1" y="32" width="1" height="1" fill="#f36f4a" vector-effect="non-scaling-stroke"/><rect x="2" y="32" width="1" height="1" fill="#fee6a4" vector-effect="non-scaling-stroke"/>
<rect x="0" y="33" width="1" height="1" fill="#9dc4de" vector-effect="non-scaling-stroke"/><rect x="1" y="33" width="1" height="1" fill="#d73027" vector-effect="non-scaling-stroke"/><rect x="2" y="33" width="1" height="1" fill="#d4eaf3" vector-effect="non-scaling-stroke"/>
<rect x="0" y="34" width="1" height="1" fill="#6a98c8" vector-effect="non-scaling-stroke"/><rect x="1" y="34" width="1" height="1" fill="#dc3e2d" vector-effect="non-scaling-stroke"/><rect x="2" y="34" width="1" height="1" fill="#f8fbd3" vector-effect="non-scaling-stroke"/>
<rect x="0" y="35" width="1" height="1" fill="#6a98c8" vector-effect="non-scaling-stroke"/><rect x="1" y="35" width="1" height="1" fill="#e0452f" vector-effect="non-scaling-stroke"/><rect x="2" y="35" width="1" height="1" fill="#eef5e2" vector-effect="non-scaling-stroke"/>
</g>
</svg>
<path fill="none" stroke="#505050" stroke-width="1" d="
M672,480V774 M672,480H692 M672,651H699 M672,774H686
M692,428V533 M692,428H720 M720,422V447.2 M720,422H724 M720,434.6H724 M720,447.2H724
M692,533H707 M707,497V570
M707,497H717 M717,466V529 M717,466H721 M721,459.8V472.4 M721,459.8H724 M721,472.4H724
M717,497.6H719 M719,485V510.2 M719,485H724 M719,497.6H724 M719,510.2H724
M717,529H721 M721,522.8V535.4 M721,522.8H724 M721,535.4H724
M707,570H716 M716,554V586 M716,554H721 M721,548V560.6 M721,548H724 M721,560.6H724
M716,586H719 M719,573.2V598.4 M719,573.2H724 M719,585.8H724 M719,598.4H724
M699,623.5V680 M699,623.5H714 M714,611V636 M714,611H724 M714,636H720 M720,623.6V648.8 M720,623.6H724 M720,636.2H724 M720,648.8H724
M699,680H714 M714,667.7V693 M714,667.7H721 M721,661.4V674 M721,661.4H724 M721,674H724 M714,693H720 M720,686.6V699.2 M720,686.6H724 M720,699.2H724
M686,731V818 M686,731H712 M712,718V743 M712,718H720 M720,711.8V724.4 M720,711.8H724 M720,724.4H724 M712,743H720 M720,737V749.6 M720,737H724 M720,749.6H724
M686,818H707 M707,793.7V847 M707,793.7H719 M719,762.2V825.2 M719,762.2H724 M719,774.8H724 M719,787.4H724 M719,800H724 M719,812.6H724 M719,825.2H724
M707,847H713 M713,837.8V856.7 M713,837.8H724 M713,856.7H721 M721,850.4V863 M721,850.4H724 M721,863H724"/>
<g font-size="10" fill="#222">
<text transform="translate(764,873) rotate(90)">S1</text>
<text transform="translate(851,873) rotate(90)">S2</text>
<text transform="translate(938.5,873) rotate(90)">S3</text>
</g>
<rect x="1175" y="416" width="11" height="159" fill="url(#gd)"/>
<g font-size="10" fill="#222"><text x="1191" y="430">1</text><text x="1191" y="465">0.5</text><text x="1191" y="499">0</text><text x="1191" y="534">-0.5</text><text x="1191" y="568">-1</text></g>
<g font-size="10.5" fill="#222">
<circle cx="680" cy="903" r="5" fill="#d2df4c"/><text x="689" y="907">flavanone</text>
<circle cx="774" cy="904" r="5" fill="#b14fe6"/><text x="783" y="908">flavone</text>
<circle cx="858" cy="904" r="5" fill="#3fcde0"/><text x="866" y="908">flavonol</text>
<rect x="939" y="899" width="9" height="8" fill="#c4960f"/><text x="951" y="908">isoflavonoid</text>
<path d="M1033,909L1039,899L1045,909Z" fill="#4a7d2c"/><text x="1048" y="909">other</text>
</g>

<!-- ================= E ================= -->
<text x="30" y="845" font-family="Liberation Serif, serif" font-size="31">E</text>
<g stroke="#c4c4c4" stroke-width="0.8" stroke-dasharray="4,3" fill="none">
<path d="M92,847H588M92,868H588M92,889H588M92,910H588M92,931H588M177.5,847V938M263,847V938M348.5,847V938M434,847V938M519.5,847V938"/>
<path d="M92,973H588M92,988H588M92,1002.6H588M92,1017.2H588M92,1031.8H588M92,1046.4H588M92,1061H588M176.2,973V1068M260.4,973V1068M344.6,973V1068M428.8,973V1068M513,973V1068"/>
<path d="M92,1107H588M92,1124H588M92,1147H588M92,1170H588M92,1193H588M168.9,1107V1202M245.7,1107V1202M322.6,1107V1202M399.4,1107V1202M476.3,1107V1202M553.1,1107V1202"/>
</g>
<g stroke="#333" stroke-width="0.9" fill="none">
<path d="M88,843V940M92,944H588M92,944V950M177.5,944V950M263,944V950M348.5,944V950M434,944V950M519.5,944V950"/>
<path d="M88,973V1068M92,1075H588M92,1075V1081M176.2,1075V1081M260.4,1075V1081M344.6,1075V1081M428.8,1075V1081M513,1075V1081"/>
<path d="M88,1107V1202M92,1208H588M92,1208V1214M168.9,1208V1214M245.7,1208V1214M322.6,1208V1214M399.4,1208V1214M476.3,1208V1214M553.1,1208V1214"/>
<path d="M84,868H88M84,889H88M84,910H88M84,931H88M84,988H88M84,1002.6H88M84,1017.2H88M84,1031.8H88M84,1046.4H88M84,1061H88M84,1124H88M84,1147H88M84,1170H88M84,1193H88"/>
</g>
<rect x="91.6" y="941" width="497" height="3" fill="url(#tx1)"/>
<rect x="91.6" y="1072" width="497" height="3" fill="url(#tx2)"/>
<rect x="91.6" y="1205" width="497" height="3" fill="url(#tx3)"/>
<rect x="85.5" y="843" width="2.5" height="97" fill="url(#ty1)"/>
<rect x="85.5" y="973" width="2.5" height="95" fill="url(#ty2)"/>
<rect x="85.5" y="1107" width="2.5" height="95" fill="url(#ty3)"/>
<g stroke="#2a2a2a" stroke-width="1" fill="none" stroke-linejoin="round">
<path d="M92,929.9L100.6,929.3L107.4,928.9L114.2,929.7L121.1,929.9L122.8,922.6L123.6,903.7L124.8,918.4L126.2,911L127.9,918.4L130.5,927.9L133,927.9L134.2,902.7L135.6,924.7L136.8,920.5L138.2,926.8L143.3,927.9L146.7,925.8L148.4,928.5L151.9,926.4L153.6,928.5L157,927.9L160.4,929.3L169,929.3L171.5,919.5L173.2,918.4L175.8,926.8L179.2,929.3L194.6,929.9L211.7,929.9L220.3,929.3L225.4,914.2L227.9,868L230.5,853.7L233.1,868L235.6,905.8L239.1,922.6L244.2,927.9L251,929.3L256.2,928.9L259.6,925.1L263,928.9L271.6,929.9L314.3,929.9L319.4,927.9L324.6,929.9L334.8,929.3L348.5,930.4L399.8,929.9L416.9,928.5L427.2,930.4L451.1,929.7L468.2,930.6L588,931"/>
<path d="M92,1061L120.6,1060.6L123.2,1044.2L124.8,1052.2L126.5,1050L128.2,1055.2L130.7,1059.5L133.3,1033.3L134.9,1055.2L137.1,1049.3L138.8,1058.1L142.5,1059.2L147.6,1057.4L150.9,1058.8L154.3,1057.8L159.4,1059.8L169.5,1059.8L171.1,1057.8L174.5,1059.8L193,1060.3L209.9,1060.3L216.6,1058.8L221.7,1039.1L225,990.9L226.7,982.9L229.2,992.4L232.6,1034.7L236.8,1053.7L243.6,1058.8L250.3,1059.8L252.8,1052.2L254.5,1031.8L256.2,1039.1L258.7,1056.6L263.8,1059.2L277.2,1059.8L344.6,1059.8L412,1059.5L428.8,1060.3L438.9,1059.5L445.6,1055.9L449,1053.7L454.1,1057.4L459.1,1060.3L479.3,1060.3L496.2,1059.5L513,1060.7L588,1060.7"/>
<path d="M92,1193L116.6,1192.5L119.7,1171.2L121.2,1179.2L122.7,1176.9L124.3,1188.4L127.4,1190.7L129.7,1139L131.2,1183.8L132.7,1172.3L134.3,1188.4L138.1,1190.7L142.7,1187.3L145.8,1190.2L148.9,1187.9L153.5,1191.2L165.8,1191.2L168.9,1191.9L199.6,1191.9L207.3,1189.6L211.1,1158.5L214.2,1121.7L215.7,1117.1L218,1133.2L221.1,1172.3L225.7,1187.3L233.4,1191.2L238,1186.1L241.1,1153.9L242.6,1144.7L244.2,1158.5L247.2,1188.4L253.4,1191.9L322.6,1191.9L376.3,1190.7L384,1191.9L411.7,1191.9L416.3,1183.8L420.9,1170L425.5,1181.5L431.7,1191.9L460.9,1192.3L468.6,1190.7L476.3,1193L588,1193"/>
</g>
<g font-size="7" fill="#555" text-anchor="end">
<text x="83" y="870.5">300</text><text x="83" y="891.5">200</text><text x="83" y="912.5">100</text><text x="83" y="933.5">0</text>
<text x="83" y="990.5">500</text><text x="83" y="1005">400</text><text x="83" y="1019.7">300</text><text x="83" y="1034.3">200</text><text x="83" y="1048.9">100</text><text x="83" y="1063.5">0</text>
<text x="83" y="1126.5">300</text><text x="83" y="1149.5">200</text><text x="83" y="1172.5">100</text><text x="83" y="1195.5">0</text>
</g>
<g font-size="7" fill="#555" text-anchor="middle">
<text x="92" y="958">0</text><text x="177.5" y="958">5</text><text x="263" y="958">10</text><text x="348.5" y="958">15</text><text x="434" y="958">20</text><text x="519.5" y="958">25</text>
<text x="92" y="1089">0</text><text x="176.2" y="1089">5</text><text x="260.4" y="1089">10</text><text x="344.6" y="1089">15</text><text x="428.8" y="1089">20</text><text x="513" y="1089">25</text>
<text x="92" y="1222">0</text><text x="168.9" y="1222">5</text><text x="245.7" y="1222">10</text><text x="322.6" y="1222">15</text><text x="399.4" y="1222">20</text><text x="476.3" y="1222">25</text><text x="553.1" y="1222">30</text>
</g>
<g font-size="6.5" fill="#555">
<text x="93" y="850">mAu</text><text x="93" y="980">mAu</text><text x="93" y="1114">mAu</text>
<text x="575" y="939">min</text><text x="575" y="1070">min</text><text x="575" y="1203">min</text>
</g>
<g font-size="16" fill="#111" text-anchor="middle">
<text x="231" y="849">PMP</text><text x="258" y="921">Man</text>
<text x="228" y="980">PMP</text><text x="258" y="1025">Man</text>
<text x="215" y="1114">PMP</text><text x="243" y="1140">Man</text>
<text x="52" y="903">S1</text><text x="52" y="1030">S2</text><text x="52" y="1165">S3</text>
</g>

<!-- ================= F ================= -->
<text x="690" y="953" font-family="Liberation Serif, serif" font-size="31">F</text>
<rect x="757.5" y="976.5" width="284.5" height="210.5" fill="none" stroke="#111" stroke-width="1"/>
<path d="M752,976.5H757.5M752,1018.7H757.5M752,1060.9H757.5M752,1103.1H757.5M752,1145.3H757.5M752,1187H757.5M829.5,1187V1191M900.5,1187V1191M971.5,1187V1191" stroke="#111" stroke-width="1"/>
<rect x="808" y="1166" width="43" height="21" fill="#595959" stroke="#111" stroke-width="0.8"/>
<rect x="879" y="1018" width="43" height="169" fill="#595959" stroke="#111" stroke-width="0.8"/>
<rect x="950" y="1000" width="43" height="187" fill="#595959" stroke="#111" stroke-width="0.8"/>
<path d="M900.5,1018V1013M896,1013H905M971.5,1000V997M967,997H976M829.5,1166V1165M825,1165H834" stroke="#111" stroke-width="1"/>
<g font-size="18" fill="#111" text-anchor="end">
<text x="748" y="983">10</text><text x="748" y="1025">8</text><text x="748" y="1067">6</text><text x="748" y="1110">4</text><text x="748" y="1152">2</text><text x="748" y="1194">0</text>
</g>
<text transform="translate(724,1086) rotate(-90)" font-size="18" fill="#111" text-anchor="middle">Relative content of mannose</text>
<g font-size="18" fill="#111" text-anchor="middle"><text x="829.5" y="1210">S1</text><text x="900.5" y="1210">S2</text><text x="971.5" y="1210">S3</text></g>

<!-- ================= G ================= -->
<text x="43" y="1307" font-family="Liberation Serif, serif" font-size="31">G</text>
<g>
<rect x="159" y="1289" width="63" height="24" fill="#17a2e0"/>
<rect x="277" y="1289" width="56" height="24" fill="#17a2e0"/>
<rect x="386" y="1289" width="73" height="24" fill="#f20000"/>
<rect x="39" y="1377" width="54" height="23" fill="#17a2e0"/>
<rect x="157" y="1377" width="55" height="23" fill="#17a2e0"/>
<rect x="279" y="1377" width="56" height="23" fill="#17a2e0"/>
<rect x="393" y="1377" width="63" height="23" fill="#f20000"/>
<rect x="31" y="1467" width="56" height="24" fill="#17a2e0"/>
<rect x="158" y="1464" width="58" height="24" fill="#17a2e0"/>
<rect x="271" y="1466" width="82" height="24" fill="#17a2e0"/>
<rect x="393" y="1454" width="72" height="24" fill="#17a2e0"/>
<rect x="466" y="1471" width="67" height="24" fill="#17a2e0"/>
<rect x="33" y="1552" width="57" height="23" fill="#17a2e0"/>
<rect x="154" y="1549" width="63" height="24" fill="#17a2e0"/>
<rect x="288" y="1552" width="60" height="23" fill="#17a2e0"/>
<rect x="406" y="1552" width="73" height="24" fill="#f20000"/>
<rect x="73" y="1627" width="59" height="23" fill="#17a2e0"/>
<rect x="208" y="1627" width="59" height="23" fill="#17a2e0"/>
<rect x="337" y="1630" width="61" height="22" fill="#17a2e0"/>
<rect x="471" y="1632" width="70" height="23" fill="#17a2e0"/>
</g>
<g font-size="14" fill="#1a1a1a" text-anchor="middle">
<text x="190.5" y="1306">Gal</text><text x="305" y="1306">Gal1P</text><text x="422.5" y="1306" fill="#5c0000">UDPgal</text>
<text x="66" y="1393">Glc</text><text x="184.5" y="1393">Glc6P</text><text x="307" y="1393">Glc1P</text><text x="424.5" y="1393" fill="#5c0000">UDPglc</text>
<text x="59" y="1484">Frc</text><text x="187" y="1481">Frc6P</text><text x="312" y="1483">Frc2,6P2</text><text x="429" y="1471">UDPglcA</text><text x="499.5" y="1488">GDPgal</text>
<text x="61.5" y="1568">Man</text><text x="185.5" y="1566">Man6P</text><text x="318" y="1568">Man1P</text><text x="442.5" y="1569" fill="#5c0000">GDPman</text>
<text x="102.5" y="1643">Fuc</text><text x="237.5" y="1643">Fuc1P</text><text x="367.5" y="1646">GDPfuc</text><text x="506" y="1649">GDPddM</text>
</g>
<g stroke="#111" stroke-width="1.3" fill="none">
<line x1="225" y1="1301" x2="275" y2="1301" marker-end="url(#b)"/>
<line x1="335" y1="1301" x2="385" y2="1301" marker-end="url(#b)"/>
<line x1="102" y1="1388" x2="154" y2="1388" marker-end="url(#b)"/>
<line x1="213" y1="1388" x2="277" y2="1388" marker-start="url(#b)" marker-end="url(#b)"/>
<line x1="337" y1="1388" x2="390" y2="1388" marker-end="url(#b)"/>
<line x1="425" y1="1315" x2="425" y2="1368" marker-start="url(#b)" marker-end="url(#b)"/>
<line x1="419" y1="1401" x2="419" y2="1448" marker-end="url(#b)"/>
<line x1="181" y1="1408" x2="181" y2="1462" marker-start="url(#b)" marker-end="url(#b)"/>
<line x1="97" y1="1477" x2="147" y2="1477" marker-end="url(#b)"/>
<line x1="217" y1="1477" x2="268" y2="1477" marker-end="url(#b)"/>
<line x1="180" y1="1496" x2="180" y2="1548" marker-start="url(#b)" marker-end="url(#b)"/>
<line x1="97" y1="1563" x2="147" y2="1563" marker-end="url(#b)"/>
<line x1="218" y1="1563" x2="283" y2="1563" marker-start="url(#b)" marker-end="url(#b)"/>
<line x1="348" y1="1565" x2="398" y2="1565" marker-end="url(#b)"/>
<line x1="447" y1="1547" x2="479" y2="1495" marker-end="url(#b)"/>
<line x1="443" y1="1577" x2="478" y2="1628" marker-end="url(#b)"/>
<line x1="142" y1="1643" x2="200" y2="1643" marker-end="url(#b)"/>
<line x1="268" y1="1643" x2="323" y2="1643" marker-start="url(#b)" marker-end="url(#b)"/>
<line x1="460" y1="1643" x2="409" y2="1643" marker-end="url(#b)"/>
</g>
<g stroke="#111" stroke-width="1.2" fill="none" stroke-dasharray="4,3">
<path d="M459,1301C520,1303 570,1340 571,1400" marker-end="url(#a)"/>
<path d="M456,1388C492,1390 478,1425 520,1430" marker-end="url(#a)"/>
<path d="M479,1564C530,1560 570,1510 571,1460" marker-end="url(#a)"/>
</g>
<g font-size="13" fill="#111" text-anchor="middle">
<text x="250" y="1298">GALK</text><text x="357" y="1297">USP</text>
<text x="127" y="1384">GK</text><text x="246" y="1384">PGM</text><text x="356" y="1378">UGP</text>
<text x="404" y="1347">GAE</text>
<text x="123" y="1473">FRK</text><text x="238" y="1473">GFPT</text>
<text x="119" y="1559">MK</text><text x="253" y="1559">PMM</text><text x="368" y="1561">GMP</text>
<text x="445" y="1528">GME</text>
<text x="163" y="1639">FUK</text><text x="297" y="1639">GFP</text><text x="434" y="1639">GMER</text>
<text x="592" y="1527">GONST</text><text x="590" y="1323">UTR</text>
</g>
<g font-size="13" fill="#111">
<text x="429" y="1428">UGD</text><text x="189" y="1436">PGI</text><text x="189" y="1527">MPI</text><text x="458" y="1599">GMD</text>
</g>
<g font-size="13" fill="#111" text-anchor="middle"><text x="571" y="1433">Polysaccharide</text><text x="571" y="1449">biosynthesis</text></g>
<g>
<rect x="430" y="1319" width="26" height="10.5" fill="#ffcccc"/><rect x="456" y="1319" width="26" height="10.5" fill="#ffc4c4"/><rect x="482" y="1319" width="26" height="10.5" fill="#ff7a7a"/>
<rect x="430" y="1329.5" width="26" height="10.5" fill="#fff0f0"/><rect x="456" y="1329.5" width="26" height="10.5" fill="#ffecec"/><rect x="482" y="1329.5" width="26" height="10.5" fill="#1e1eff"/>
<rect x="430" y="1340" width="26" height="10.5" fill="#ffffff"/><rect x="456" y="1340" width="26" height="10.5" fill="#dcdcff"/><rect x="482" y="1340" width="26" height="10.5" fill="#babaff"/>
<rect x="430" y="1350.5" width="26" height="10.5" fill="#ff8c8c"/><rect x="456" y="1350.5" width="26" height="10.5" fill="#ff3a3a"/><rect x="482" y="1350.5" width="26" height="10.5" fill="#ff3434"/>
<rect x="426" y="1432" width="25.7" height="10" fill="#ffaaaa"/><rect x="451.7" y="1432" width="25.7" height="10" fill="#ff9898"/><rect x="477.4" y="1432" width="25.7" height="10" fill="#ffcccc"/>
<rect x="84" y="1451" width="26" height="10" fill="#ff5858"/><rect x="110" y="1451" width="26" height="10" fill="#ff5c5c"/><rect x="136" y="1451" width="26" height="10" fill="#ffbcbc"/>
<rect x="217" y="1535" width="26" height="10" fill="#ff7c7c"/><rect x="243" y="1535" width="26" height="10" fill="#ff6a6a"/><rect x="269" y="1535" width="26" height="10" fill="#ffbdbd"/>
<rect x="330" y="1524" width="25.7" height="11" fill="#ff4848"/><rect x="355.7" y="1524" width="25.7" height="11" fill="#ff1010"/><rect x="381.4" y="1524" width="25.7" height="11" fill="#ff2424"/>
<rect x="330" y="1535" width="25.7" height="11" fill="#f7f7ff"/><rect x="355.7" y="1535" width="25.7" height="11" fill="#e4e4ff"/><rect x="381.4" y="1535" width="25.7" height="11" fill="#ffbcbc"/>
<rect x="373" y="1590" width="25.7" height="11" fill="#ff7878"/><rect x="398.7" y="1590" width="25.7" height="11" fill="#ff8a8a"/><rect x="424.4" y="1590" width="25.7" height="11" fill="#ffb8b8"/>
<rect x="552" y="1328" width="26" height="11" fill="#9a9aff"/><rect x="578" y="1328" width="26" height="11" fill="#c6c6ff"/><rect x="604" y="1328" width="26" height="11" fill="#ffe4e4"/>
<rect x="551" y="1530" width="26.3" height="11" fill="#a6a6ff"/><rect x="577.3" y="1530" width="26.3" height="11" fill="#c4c4ff"/><rect x="603.6" y="1530" width="26.3" height="11" fill="#8484ff"/>
<rect x="551" y="1541" width="26.3" height="11" fill="#6c6cff"/><rect x="577.3" y="1541" width="26.3" height="11" fill="#7c7cff"/><rect x="603.6" y="1541" width="26.3" height="11" fill="#0000ff"/>
</g>
<g font-size="8.5" fill="#111" text-anchor="middle">
<text x="441" y="1370">S1</text><text x="468" y="1370">S2</text><text x="497" y="1370">S3</text>
<text x="437" y="1451">S1</text><text x="463" y="1451">S2</text><text x="489" y="1452">S3</text>
<text x="98" y="1448">S1</text><text x="123" y="1448">S2</text><text x="148" y="1448">S3</text>
<text x="231" y="1531">S1</text><text x="253" y="1531">S2</text><text x="280" y="1531">S3</text>
<text x="343" y="1521">S1</text><text x="368" y="1521">S2</text><text x="395" y="1521">S3</text>
<text x="381" y="1612">S1</text><text x="409" y="1612">S2</text><text x="438" y="1612">S3</text>
<text x="563" y="1350">S1</text><text x="591" y="1350">S2</text><text x="619" y="1350">S3</text>
<text x="563" y="1573">S1</text><text x="590" y="1573">S2</text><text x="618" y="1573">S3</text>
</g>
<rect x="663" y="1305" width="11" height="117" fill="url(#gg)"/>
<g font-size="10" fill="#222"><text x="680" y="1316">10</text><text x="680" y="1369">5</text><text x="680" y="1416">0</text></g>

<!-- ================= H ================= -->
<text x="762" y="1303" font-family="Liberation Serif, serif" font-size="31">H</text>
<g font-size="14" fill="#111" text-anchor="middle"><text x="834" y="1294">S1</text><text x="899" y="1294">S2</text><text x="969" y="1296">S3</text></g>
<svg x="802" y="1304" width="200" height="358" viewBox="0 0 3 11" preserveAspectRatio="none">
<rect x="0" y="0" width="1" height="1" fill="#ff6666"/><rect x="1" y="0" width="1" height="1" fill="#ff5050"/><rect x="2" y="0" width="1" height="1" fill="#ff9a9a"/>
<rect x="0" y="1" width="1" height="1" fill="#ff7777"/><rect x="1" y="1" width="1" height="1" fill="#ff7777"/><rect x="2" y="1" width="1" height="1" fill="#ff6262"/>
<rect x="0" y="2" width="1" height="1" fill="#ff6060"/><rect x="1" y="2" width="1" height="1" fill="#ff0000"/><rect x="2" y="2" width="1" height="1" fill="#ff3333"/>
<rect x="0" y="3" width="1" height="1" fill="#ffc5c5"/><rect x="1" y="3" width="1" height="1" fill="#ff1a1a"/><rect x="2" y="3" width="1" height="1" fill="#ffb0b0"/>
<rect x="0" y="4" width="1" height="1" fill="#ffa8a8"/><rect x="1" y="4" width="1" height="1" fill="#ff9898"/><rect x="2" y="4" width="1" height="1" fill="#ffb0b0"/>
<rect x="0" y="5" width="1" height="1" fill="#ffacac"/><rect x="1" y="5" width="1" height="1" fill="#ff9c9c"/><rect x="2" y="5" width="1" height="1" fill="#ffb5b5"/>
<rect x="0" y="6" width="1" height="1" fill="#ff8686"/><rect x="1" y="6" width="1" height="1" fill="#ff7a7a"/><rect x="2" y="6" width="1" height="1" fill="#ffcaca"/>
<rect x="0" y="7" width="1" height="1" fill="#ffa4a4"/><rect x="1" y="7" width="1" height="1" fill="#ffacac"/><rect x="2" y="7" width="1" height="1" fill="#ffd8d8"/>
<rect x="0" y="8" width="1" height="1" fill="#f5f5fb"/><rect x="1" y="8" width="1" height="1" fill="#bbbbff"/><rect x="2" y="8" width="1" height="1" fill="#ffe2e2"/>
<rect x="0" y="9" width="1" height="1" fill="#b5b5ff"/><rect x="1" y="9" width="1" height="1" fill="#d8d8ff"/><rect x="2" y="9" width="1" height="1" fill="#a8a8ff"/>
<rect x="0" y="10" width="1" height="1" fill="#9898ff"/><rect x="1" y="10" width="1" height="1" fill="#ffd2d2"/><rect x="2" y="10" width="1" height="1" fill="#0000f5"/>
</svg>
<path fill="none" stroke="#c4c4c4" stroke-width="1" d="M794,1320.3V1352.8M794,1320.3H802M794,1352.8H802M787.7,1336.5V1385.4M787.7,1336.5H794M787.7,1385.4H802M784.3,1361V1417.9M784.3,1361H787.7M784.3,1417.9H802M800.7,1450.5V1483M800.7,1450.5H802M800.7,1483H802M797.3,1466.7V1515.6M797.3,1466.7H800.7M797.3,1515.6H802M796,1491V1548.1M796,1491H797.3M796,1548.1H802M773.3,1389.5V1519.6M773.3,1389.5H784.3M773.3,1519.6H796M787.7,1580.7V1613.2M787.7,1580.7H802M787.7,1613.2H802M766.7,1597V1645.8M766.7,1597H787.7M766.7,1645.8H802M738.3,1454.5V1621.4M738.3,1454.5H773.3M738.3,1621.4H766.7"/>
<g font-size="13" fill="#222">
<text x="1005" y="1325">- DoCSLA4</text><text x="1005" y="1357.5">- DoCSLA6</text><text x="1005" y="1390">- DoCSLA11</text><text x="1005" y="1422.5">- DoCSLA2</text><text x="1005" y="1455">- DoCSLA3</text><text x="1005" y="1487.5">- DoCSLA8</text><text x="1005" y="1520">- DoCSLA5</text><text x="1005" y="1552.5">- DoCSLA7</text><text x="1005" y="1585">- DoCSLA10</text><text x="1005" y="1617.5">- DoCSLA1</text><text x="1005" y="1650">- DoCSLA9</text>
</g>
<rect x="1090" y="1304" width="13" height="119" fill="url(#gh)"/>
<g font-size="11" fill="#222"><text x="1111" y="1317">8</text><text x="1110" y="1371">0.5</text><text x="1110" y="1417">-7</text></g>
</svg>

<div class="rl" style="top:415.7px">Dihydrokaempferol<i class="m ci fa"></i></div>
<div class="rl" style="top:428.3px">Denin<i class="m ci fo"></i></div>
<div class="rl" style="top:440.9px">Heptamethoxyflavone<i class="m ci fo"></i></div>
<div class="rl" style="top:453.5px">Apigenin 7-O-glucoside<i class="m ci fo"></i></div>
<div class="rl" style="top:466.1px">methylApigenin C-pentoside<i class="m ci fo"></i></div>
<div class="rl" style="top:478.7px">6&quot;-O-xylosyl-glycitin<i class="m sq"></i></div>
<div class="rl" style="top:491.3px">Tricin O-sinapoylpentoside<i class="m ci fo"></i></div>
<div class="rl" style="top:503.9px">Genistein<i class="m sq"></i></div>
<div class="rl" style="top:516.5px">Ophiopogonanone C<i class="m sq"></i></div>
<div class="rl" style="top:529.1px">Sophoricoside<i class="m sq"></i></div>
<div class="rl" style="top:541.7px">di-C,C-pentosyl-luteolin<i class="m ci fo"></i></div>
<div class="rl" style="top:554.3px">3&quot;-Methyoxy-puerarin<i class="m sq"></i></div>
<div class="rl" style="top:566.9px">Apigenin 4-O-rhamnoside<i class="m ci fo"></i></div>
<div class="rl" style="top:579.5px">Naringin<i class="m ci fa"></i></div>
<div class="rl" style="top:592.1px">Narirutin<i class="m ci fa"></i></div>
<div class="rl" style="top:604.7px">Flavanone<i class="m ci fa"></i></div>
<div class="rl" style="top:617.3px">Luteolin C-feruloylhexoside<i class="m ci fo"></i></div>
<div class="rl" style="top:629.9px">Biochanin A 7-O-glucoside<i class="m sq"></i></div>
<div class="rl" style="top:642.5px">Glycitin<i class="m sq"></i></div>
<div class="rl" style="top:655.1px">Quercetin 3-D-galactoside<i class="m ci fl"></i></div>
<div class="rl" style="top:667.7px">Quercetin-3-O-Sophoroside<i class="m ci fl"></i></div>
<div class="rl" style="top:680.3px">Vaccarin<i class="m tr"></i></div>
<div class="rl" style="top:692.9px">Daidzein<i class="m sq"></i></div>
<div class="rl" style="top:705.5px">Chrysoeriol<i class="m ci fo"></i></div>
<div class="rl" style="top:718.1px">Diosmetin<i class="m ci fo"></i></div>
<div class="rl" style="top:730.7px">Astilbin<i class="m ci fa"></i></div>
<div class="rl" style="top:743.3px">methylNaringenin C-pentoside<i class="m ci fa"></i></div>
<div class="rl" style="top:755.9px">Isomucronulatol-7-O-glucoside<i class="m sq"></i></div>
<div class="rl" style="top:768.5px">Hyperin<i class="m ci fl"></i></div>
<div class="rl" style="top:781.1px">Isoquercitrin<i class="m ci fl"></i></div>
<div class="rl" style="top:793.7px">Luteolin O-malonylhexoside<i class="m ci fo"></i></div>
<div class="rl" style="top:806.3px">Quercetin 3-β-D-glucoside<i class="m ci fl"></i></div>
<div class="rl" style="top:818.9px">Quercetin-3'-O-glucoside<i class="m ci fl"></i></div>
<div class="rl" style="top:831.5px">Hesperetin<i class="m ci fa"></i></div>
<div class="rl" style="top:844.1px">Quercetin<i class="m ci fl"></i></div>
<div class="rl" style="top:856.7px">Catechin<i class="m tr"></i></div>
</body></html>
